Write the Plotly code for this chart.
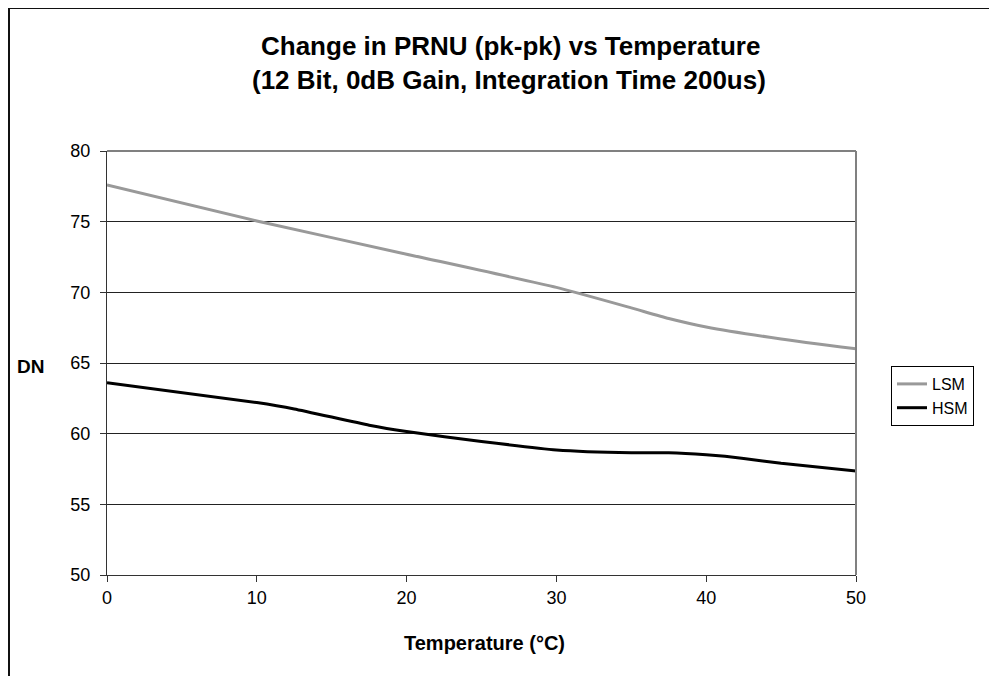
import plotly.graph_objects as go

# Data
lsm_temp = [0, 10, 20, 30, 35, 37.5, 40, 45, 50]
lsm_dn = [77.6, 75.05, 72.7, 70.35, 68.9, 68.15, 67.55, 66.7, 66.0]

hsm_temp = [0, 10, 12.5, 17.5, 20, 25, 30, 35, 37.5, 40, 42.5, 45, 50]
hsm_dn = [63.6, 62.2, 61.75, 60.6, 60.15, 59.45, 58.85, 58.65, 58.65, 58.5, 58.25, 57.9, 57.35]

x_ticks = [0, 10, 20, 30, 40, 50]
y_ticks = [50, 55, 60, 65, 70, 75, 80]

title_line1 = "Change in PRNU (pk-pk) vs Temperature"
title_line2 = "(12 Bit, 0dB Gain, Integration Time 200us)"

FONT = "Liberation Sans, Arial, sans-serif"
OFF = 8  # default body margin of the html page
W, H = 997 - OFF, 676 - OFF
# plot area in page pixels: x 107..856, y 151..575
L, T = 107 - OFF, 151 - OFF
R = W - (856 - OFF)
B = H - (575 - OFF)
pw, ph = W - L - R, H - T - B


def px_x(p):
    return (p - OFF - L) / pw


def px_y(p):
    return (H - B - (p - OFF)) / ph


fig = go.Figure()
fig.add_trace(go.Scatter(x=lsm_temp, y=lsm_dn, name="LSM", mode="lines",
                         line=dict(color="#999999", width=3, shape="spline", smoothing=0.5)))
fig.add_trace(go.Scatter(x=hsm_temp, y=hsm_dn, name="HSM", mode="lines",
                         line=dict(color="#000000", width=3, shape="spline", smoothing=0.5)))

fig.update_layout(
    width=W, height=H,
    margin=dict(l=L, r=R, t=T, b=B),
    paper_bgcolor="white", plot_bgcolor="white",
    font=dict(family=FONT, size=18, color="black"),
    showlegend=True,
    legend=dict(x=px_x(891), y=px_y(366), xanchor="left", yanchor="top",
                bordercolor="black", borderwidth=1, bgcolor="white",
                font=dict(size=16), tracegroupgap=0, itemwidth=30),
    xaxis=dict(range=[0, 50], tickvals=x_ticks, ticks="outside", ticklen=6,
               tickcolor="#333", showline=True, linecolor="#333", linewidth=1,
               showgrid=False, zeroline=False, tickfont=dict(size=18)),
    yaxis=dict(range=[50, 80], tickvals=y_ticks, ticks="outside", ticklen=6,
               tickcolor="#333", showline=True, linecolor="#333", linewidth=1,
               showgrid=True, gridcolor="#222", gridwidth=1, zeroline=False,
               tickfont=dict(size=18), ticklabelstandoff=6),
)

# plot area top/right border (gray)
fig.add_shape(type="line", xref="paper", yref="paper", x0=0, x1=1, y0=1, y1=1,
              line=dict(color="#808080", width=2))
fig.add_shape(type="line", xref="paper", yref="paper", x0=1, x1=1, y0=0, y1=1,
              line=dict(color="#808080", width=2))

# outer chart border
fig.add_shape(type="rect", xref="paper", yref="paper",
              x0=px_x(9), x1=px_x(1010), y0=px_y(690), y1=px_y(8),
              line=dict(color="#111", width=2), layer="below")

fig.add_annotation(text="<b>" + title_line1 + "</b>", xref="paper", yref="paper",
                   x=px_x(510), y=px_y(46), xanchor="center", yanchor="middle",
                   showarrow=False, font=dict(size=26))
fig.add_annotation(text="<b>" + title_line2 + "</b>", xref="paper", yref="paper",
                   x=px_x(509), y=px_y(80), xanchor="center", yanchor="middle",
                   showarrow=False, font=dict(size=26))
fig.add_annotation(text="<b>DN</b>", xref="paper", yref="paper",
                   x=px_x(30), y=px_y(366), xanchor="center", yanchor="middle",
                   showarrow=False, font=dict(size=19))
fig.add_annotation(text="<b>Temperature (°C)</b>", xref="paper", yref="paper",
                   x=px_x(484), y=px_y(643), xanchor="center", yanchor="middle",
                   showarrow=False, font=dict(size=20))

fig.write_html("out.html")
